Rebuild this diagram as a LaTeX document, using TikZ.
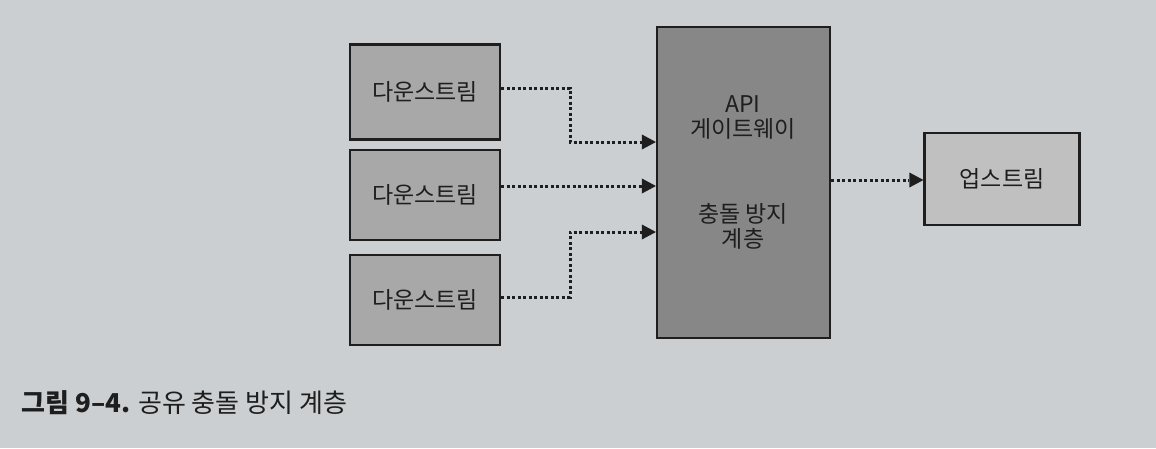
\documentclass[tikz,border=0pt]{standalone}
\usepackage{fontspec}
\setmainfont{Noto Sans CJK KR}
\usetikzlibrary{arrows.meta}
\definecolor{paper}{RGB}{204,207,209}
\definecolor{downfill}{RGB}{168,168,168}
\definecolor{gwfill}{RGB}{135,135,135}
\definecolor{upfill}{RGB}{192,192,192}
\definecolor{ink}{RGB}{30,30,30}
\begin{document}
\begin{tikzpicture}[x=1pt,y=-1pt,
  boxstyle/.style={draw=ink,line width=2.2pt,inner sep=0pt,font=\fontsize{23}{26}\selectfont,text=ink,align=center},
  conn/.style={draw=ink,line width=3pt,dash pattern=on 3pt off 2.5pt,-{Triangle[length=14pt,width=15pt,line width=0pt]}}]
\fill[paper] (0,0) rectangle (1156,448);
\useasboundingbox (0,0) rectangle (1156,448);
\node[boxstyle,fill=downfill,minimum width=150pt,minimum height=95pt] (d1) at (425,92) {다운스트림};
\node[boxstyle,fill=downfill,minimum width=150pt,minimum height=90pt] (d2) at (425,195) {다운스트림};
\node[boxstyle,fill=downfill,minimum width=150pt,minimum height=90pt] (d3) at (425,300) {다운스트림};
\node[boxstyle,fill=gwfill,minimum width=173pt,minimum height=311pt] (gw) at (743.5,182.5) {};
\node[font=\fontsize{23}{25}\selectfont,text=ink,align=center] (gwt1) at (743,117) {API\\게이트웨이};
\node[font=\fontsize{23}{25}\selectfont,text=ink,align=center] (gwt2) at (743,226) {충돌 방지\\계층};
\node[boxstyle,fill=upfill,minimum width=155pt,minimum height=92pt] (up) at (1002,179) {업스트림};
\coordinate (a1) at (570,88);
\coordinate (a3) at (570,297);
\draw[conn] (d1.east |- 0,88) -- (a1) |- (gw.west |- 0,142);
\draw[conn] (d2.east |- 0,186) -- (gw.west |- 0,186);
\draw[conn] (d3.east |- 0,297) -- (a3) |- (gw.west |- 0,232);
\draw[conn] (gw.east |- 0,180) -- (up.west |- 0,180);
\node[anchor=west,font=\fontsize{26}{30}\selectfont,text=ink] (cap) at (18,403) {\textbf{그림 9–4.} 공유 충돌 방지 계층};
\end{tikzpicture}
\end{document}
